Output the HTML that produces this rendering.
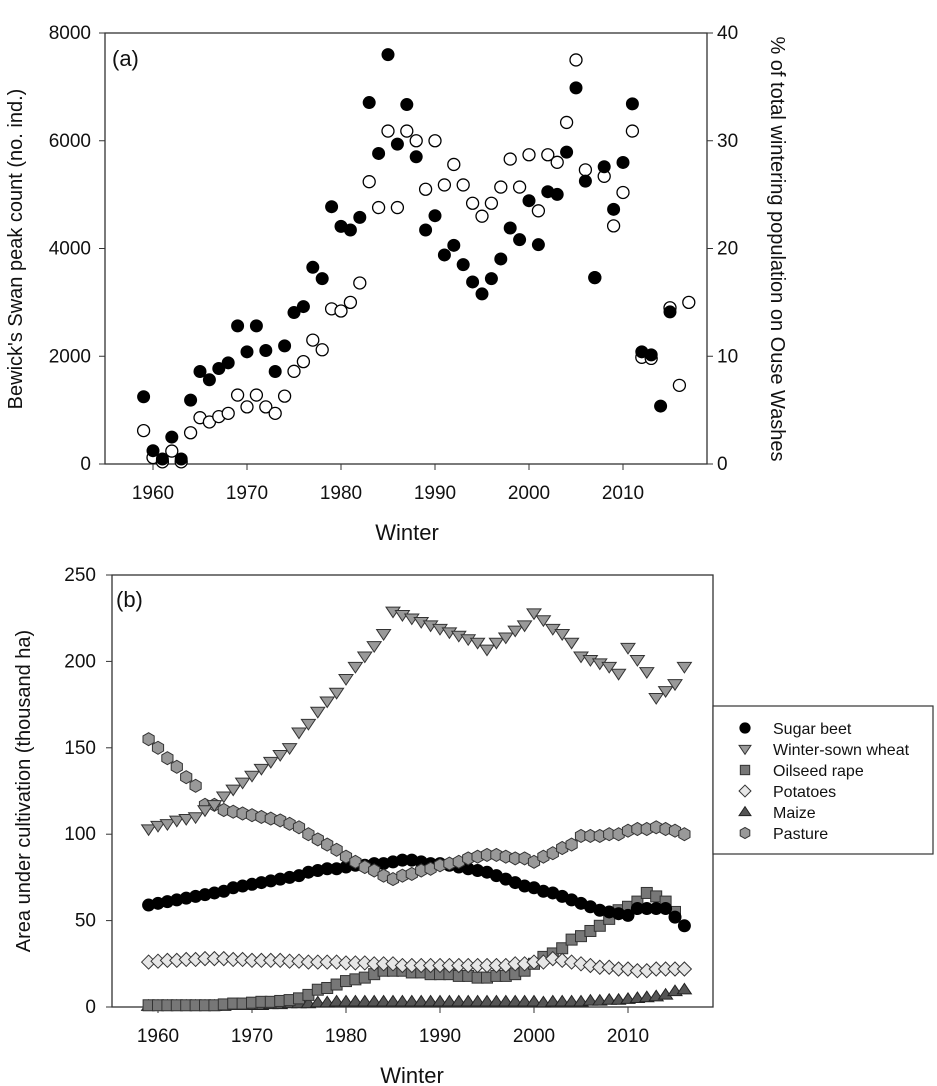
<!DOCTYPE html>
<html><head><meta charset="utf-8"><style>
body{margin:0;background:#fff;}
svg{display:block;font-family:"Liberation Sans",Arial,sans-serif;}
</style></head><body>
<svg id="fig" width="937" height="1086" viewBox="0 0 937 1086" xmlns="http://www.w3.org/2000/svg">
<g id="pa"></g>
<g id="pb"></g>
</svg>
<script>
const yearsA=[];for(let y=1959;y<=2017;y++)yearsA.push(y);
const peakCount={1959:1248,1960:247,1961:93,1962:500,1963:93,1964:1186,1965:1717,1966:1563,1967:1773,1968:1878,1969:2564,1970:2082,1971:2564,1972:2107,1973:1717,1974:2193,1975:2811,1976:2922,1977:3651,1978:3441,1979:4776,1980:4411,1981:4343,1982:4578,1983:6709,1984:5764,1985:7599,1986:5937,1987:6672,1988:5702,1989:4343,1990:4609,1991:3880,1992:4059,1993:3701,1994:3379,1995:3157,1996:3441,1997:3806,1998:4380,1999:4164,2000:4887,2001:4071,2002:5054,2003:5004,2004:5789,2005:6981,2006:5251,2007:3460,2008:5517,2009:4727,2010:5597,2011:6685,2012:2082,2013:2026,2014:1075,2015:2823};
const pctTotal={1959:3.1,1960:0.6,1961:0.2,1962:1.2,1963:0.2,1964:2.9,1965:4.3,1966:3.9,1967:4.4,1968:4.7,1969:6.4,1970:5.3,1971:6.4,1972:5.3,1973:4.7,1974:6.3,1975:8.6,1976:9.5,1977:11.5,1978:10.6,1979:14.4,1980:14.2,1981:15.0,1982:16.8,1983:26.2,1984:23.8,1985:30.9,1986:23.8,1987:30.9,1988:30.0,1989:25.5,1990:30.0,1991:25.9,1992:27.8,1993:25.9,1994:24.2,1995:23.0,1996:24.2,1997:25.7,1998:28.3,1999:25.7,2000:28.7,2001:23.5,2002:28.7,2003:28.0,2004:31.7,2005:37.5,2006:27.3,2007:17.3,2008:26.7,2009:22.1,2010:25.2,2011:30.9,2012:9.9,2013:9.8,2015:14.5,2016:7.3,2017:15.0};
const xTicks=[1960,1970,1980,1990,2000,2010];
const yTicksA=[0,2000,4000,6000,8000];
const yTicksA2=[0,10,20,30,40];
const yTicksB=[0,50,100,150,200,250];
const yearsB=[];for(let y=1959;y<=2016;y++)yearsB.push(y);
const sugarBeet=[59,60,61,62,63,64,65,66,67,69,70,71,72,73,74,75,76,78,79,80,80,81,82,82,83,83,84,85,85,84,83,83,82,81,80,79,78,76,74,72,70,69,67,66,64,62,60,58,56,55,54,53,57,57,57,57,52,47];
const wheat=[103,105,106,108,109,110,114,117,122,126,130,134,138,142,146,150,159,164,171,177,182,190,197,203,209,216,229,227,225,223,221,219,217,215,213,211,207,211,214,218,221,228,224,219,216,211,203,201,199,197,193,208,201,194,179,183,187,197];
const oilseed=[1,1,1,1,1,1,1,1,1.5,2,2,2.5,3,3,3.5,4,5,7,10,11,13,15,16,17,19,21,21,21,20,20,19,19,19,18,18,17,17,18,18,19,21,25,29,31,34,39,41,44,47,51,56,58,61,66,64,61,55];
const potatoes=[26,26.5,27,27,27.5,27.5,28,28,28,27.5,27.5,27,27,27,27,26.5,26.5,26,26,26,26,25.5,25.5,25.5,25,25,25,24,24,24,24,24,24,24,24,24,24,24,24,25,25,26,26,28,27,26,25,24,23,23,22,22,21,21,22,22,22,22];
const maize=[0.5,0.5,0.5,0.5,0.5,0.5,0.5,0.5,0.5,1,1,1,1,1.5,1.5,2,2,2,2.5,2.5,3,3,3,3,3,3,3,3,3,3,3,3,3,3,3,3,3,3,3,3,3,3,2.5,3,3,3,3,3.5,3.5,4,4,4.5,5,5.5,6,7,9,10];
const pasture=[155,150,144,139,133,128,117,117,114,113,112,111,110,109,108,106,104,100,97,94,91,87,84,81,79,76,74,76,77,79,80,82,83,84,86,87,88,88,87,86,86,84,87,89,92,94,99,99,99,100,100,102,103,103,104,103,102,100];

const NS="http://www.w3.org/2000/svg";
function mk(parent,tag,attrs,text){const e=document.createElementNS(NS,tag);for(const k in attrs)e.setAttribute(k,attrs[k]);if(text!==undefined)e.textContent=text;parent.appendChild(e);return e;}

// ---------- Panel A ----------
const pa=document.getElementById('pa');
const A={l:105,r:707,t:33,b:464};
const xA=y=>153+(y-1960)*9.4;
const yA=v=>A.b-(v/8000)*(A.b-A.t);
const yA2=v=>A.b-(v/40)*(A.b-A.t);
let fr=mk(pa,'rect',{x:A.l,y:A.t,width:A.r-A.l,height:A.b-A.t,fill:'none',stroke:'#333','stroke-width':1.3});


xTicks.forEach(t=>{
  mk(pa,'line',{x1:xA(t),x2:xA(t),y1:A.b,y2:A.b+6,stroke:'#333'});
  let tx=mk(pa,'text',{x:xA(t),y:A.b+35,'font-size':19,'text-anchor':'middle',fill:'#111'},t);
  
  
});
yTicksA.forEach(t=>{
  mk(pa,'line',{x1:A.l-6,x2:A.l,y1:yA(t),y2:yA(t),stroke:'#333'});
  let tx=mk(pa,'text',{x:A.l-14,y:yA(t)+6,'font-size':19,'text-anchor':'end',fill:'#111'},t);
  
  
});
yTicksA2.forEach(t=>{
  mk(pa,'line',{x1:A.r,x2:A.r+6,y1:yA2(t),y2:yA2(t),stroke:'#333'});
  let tx=mk(pa,'text',{x:A.r+10,y:yA2(t)+6,'font-size':19,'text-anchor':'start',fill:'#111'},t);
  
  
});
yearsA.forEach(y=>{
  if(pctTotal[y]!==undefined){
    let c=mk(pa,'circle',{cx:xA(y),cy:yA2(pctTotal[y]),r:6,fill:'#fff',stroke:'#000','stroke-width':1.3});
    
    
  }
});
yearsA.forEach(y=>{
  if(peakCount[y]!==undefined){
    let c=mk(pa,'circle',{cx:xA(y),cy:yA(peakCount[y]),r:6.5,fill:'#000'});
    
    
  }
});
let la=mk(pa,'text',{x:112,y:66,'font-size':22,fill:'#111'},'(a)');


let xt=mk(pa,'text',{x:407,y:540,'font-size':22,'text-anchor':'middle',fill:'#111'},'Winter');


let yt=mk(pa,'text',{x:0,y:0,'font-size':20,'text-anchor':'middle',fill:'#111',transform:'translate(22,249) rotate(-90)'},"Bewick's Swan peak count (no. ind.)");


let yt2=mk(pa,'text',{x:0,y:0,'font-size':20,'text-anchor':'middle',fill:'#111',transform:'translate(771,249) rotate(90)'},'% of total wintering population on Ouse Washes');



// ---------- Panel B ----------
const pb=document.getElementById('pb');
const B={l:112,r:713,t:575,b:1007};
const xB=y=>158+(y-1960)*9.4;
const yB=v=>B.b-(v/250)*(B.b-B.t);
let fb=mk(pb,'rect',{x:B.l,y:B.t,width:B.r-B.l,height:B.b-B.t,fill:'none',stroke:'#333','stroke-width':1.3});


xTicks.forEach(t=>{
  mk(pb,'line',{x1:xB(t),x2:xB(t),y1:B.b,y2:B.b+6,stroke:'#333'});
  let tx=mk(pb,'text',{x:xB(t),y:B.b+35,'font-size':19,'text-anchor':'middle',fill:'#111'},t);
  
  
});
yTicksB.forEach(t=>{
  mk(pb,'line',{x1:B.l-6,x2:B.l,y1:yB(t),y2:yB(t),stroke:'#333'});
  let tx=mk(pb,'text',{x:B.l-16,y:yB(t)+6,'font-size':19,'text-anchor':'end',fill:'#111'},t);
  
  
});
function marker(g,type,cx,cy,s){
  s=s||1;
  if(type==='circle')return mk(g,'circle',{cx,cy,r:6*s,fill:'#000',stroke:'#000'});
  if(type==='tri-down'){const r=7*s;return mk(g,'polygon',{points:`${cx-r},${cy-r*0.6} ${cx+r},${cy-r*0.6} ${cx},${cy+r*0.9}`,fill:'#999',stroke:'#333','stroke-width':1});}
  if(type==='square'){const r=5.5*s;return mk(g,'rect',{x:cx-r,y:cy-r,width:2*r,height:2*r,fill:'#777',stroke:'#333','stroke-width':1});}
  if(type==='diamond'){const r=7*s;return mk(g,'polygon',{points:`${cx},${cy-r} ${cx+r},${cy} ${cx},${cy+r} ${cx-r},${cy}`,fill:'#e6e6e6',stroke:'#333','stroke-width':1});}
  if(type==='tri-up'){const r=7*s;return mk(g,'polygon',{points:`${cx-r},${cy+r*0.6} ${cx+r},${cy+r*0.6} ${cx},${cy-r*0.9}`,fill:'#555',stroke:'#222','stroke-width':1});}
  if(type==='hex'){const r=6.5*s;let p=[];for(let i=0;i<6;i++){const a=Math.PI/6+i*Math.PI/3;p.push((cx+r*Math.cos(a)).toFixed(1)+','+(cy+r*Math.sin(a)).toFixed(1));}return mk(g,'polygon',{points:p.join(' '),fill:'#999',stroke:'#333','stroke-width':1});}
}
const seriesB=[['Sugar beet',sugarBeet,'circle'],['Winter-sown wheat',wheat,'tri-down'],['Oilseed rape',oilseed,'square'],['Potatoes',potatoes,'diamond'],['Maize',maize,'tri-up'],['Pasture',pasture,'hex']];
const drawOrder=[4,2,3,0,5,1];
drawOrder.forEach(i=>{
  const [name,vals,type]=seriesB[i];
  const g=mk(pb,'g',{});
  
  
  vals.forEach((v,k)=>{
    const m=marker(g,type,xB(yearsB[k]),yB(v));
    
    
  });
});
let lb=mk(pb,'text',{x:116,y:607,'font-size':22,fill:'#111'},'(b)');


let xtb=mk(pb,'text',{x:412,y:1083,'font-size':22,'text-anchor':'middle',fill:'#111'},'Winter');


let ytb=mk(pb,'text',{x:0,y:0,'font-size':20,'text-anchor':'middle',fill:'#111',transform:'translate(30,791) rotate(-90)'},'Area under cultivation (thousand ha)');


// legend
const lg=mk(pb,'g',{});


mk(lg,'rect',{x:713,y:706,width:220,height:148,fill:'#fff',stroke:'#333','stroke-width':1.2});
seriesB.forEach((s,i)=>{
  const y=728+i*21;
  const m=marker(lg,s[2],745,y,0.85);
  
  
  const t=mk(lg,'text',{x:773,y:y+6,'font-size':16,fill:'#111'},s[0]);
  
  
});
</script>
</body></html>
